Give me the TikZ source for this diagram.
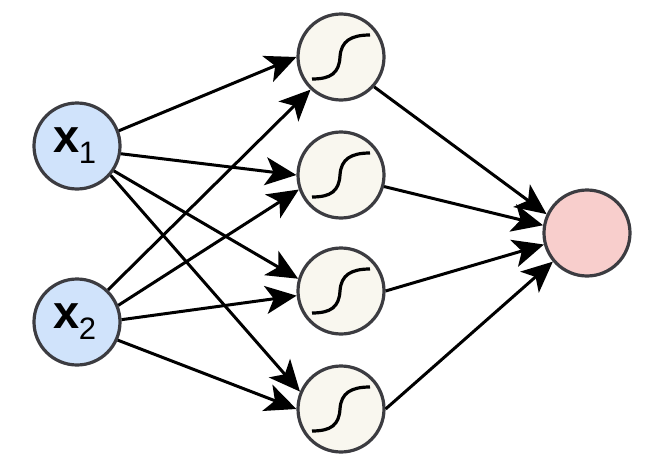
\documentclass[tikz,border=0pt]{standalone}
\usepackage{fontspec}
\setmainfont{Liberation Sans}
\usetikzlibrary{arrows.meta}
\tikzset{
  unit/.style={circle,draw=ringgray,line width=3.2pt,minimum size=86pt,inner sep=0pt,outer sep=1.6pt},
  inputunit/.style={unit,fill=inblue,font=\bfseries\fontsize{47}{47}\selectfont},
  hiddenunit/.style={unit,fill=hidcream},
  outputunit/.style={unit,fill=outpink},
  conn/.style={line width=3pt,draw=black,-{Stealth[length=31pt,width=28pt,inset=8pt]}},
  sigma/.style={line width=3.2pt,draw=black}
}
\definecolor{ringgray}{HTML}{3C3C41}
\definecolor{inblue}{HTML}{D0E3FB}
\definecolor{hidcream}{HTML}{F9F7EF}
\definecolor{outpink}{HTML}{F8CECC}
\newcommand{\sigmoidin}[1]{\begin{scope}[shift={(#1.center)}]
\draw[sigma] (-29,22) .. controls (-10,22) and (-2,16) .. (-1,0) .. controls (0,-16) and (10,-22) .. (29,-22);
\end{scope}}
\begin{document}
\begin{tikzpicture}[x=1pt,y=-1pt]
\useasboundingbox (0,0) rectangle (654,474);
\node[inputunit] (x1) at (77,146) {x\kern-1pt\raisebox{-11pt}{\mdseries\fontsize{31}{31}\selectfont 1}\kern4pt};
\node[inputunit] (x2) at (77,322) {x\kern-1pt\raisebox{-11pt}{\mdseries\fontsize{31}{31}\selectfont 2}\kern4pt};
\node[hiddenunit] (h1) at (341,57) {};
\node[hiddenunit] (h2) at (341,175) {};
\node[hiddenunit] (h3) at (341,291) {};
\node[hiddenunit] (h4) at (341,409) {};
\node[outputunit] (o) at (587,233) {};
\foreach \n in {h1,h2,h3,h4} {\sigmoidin{\n}}
\draw[conn] (x1.20) -- (h1.180);
\draw[conn] (x1.-10) -- (h2.180);
\draw[conn] (x1.-34) -- (h3.164);
\draw[conn] (x1.-41) -- (h4.157);
\draw[conn] (x2.46) -- (h1.227);
\draw[conn] (x2.22) -- (h2.199);
\draw[conn] (x2.3) -- (h3.186);
\draw[conn] (x2.-24) -- (h4.180);
\draw[conn] (h1.-42) -- (o.155);
\draw[conn] (h2.-15) -- (o.170);
\draw[conn] (h3.0) -- (o.195);
\draw[conn] (h4.0) -- (o.220);
\end{tikzpicture}
\end{document}
